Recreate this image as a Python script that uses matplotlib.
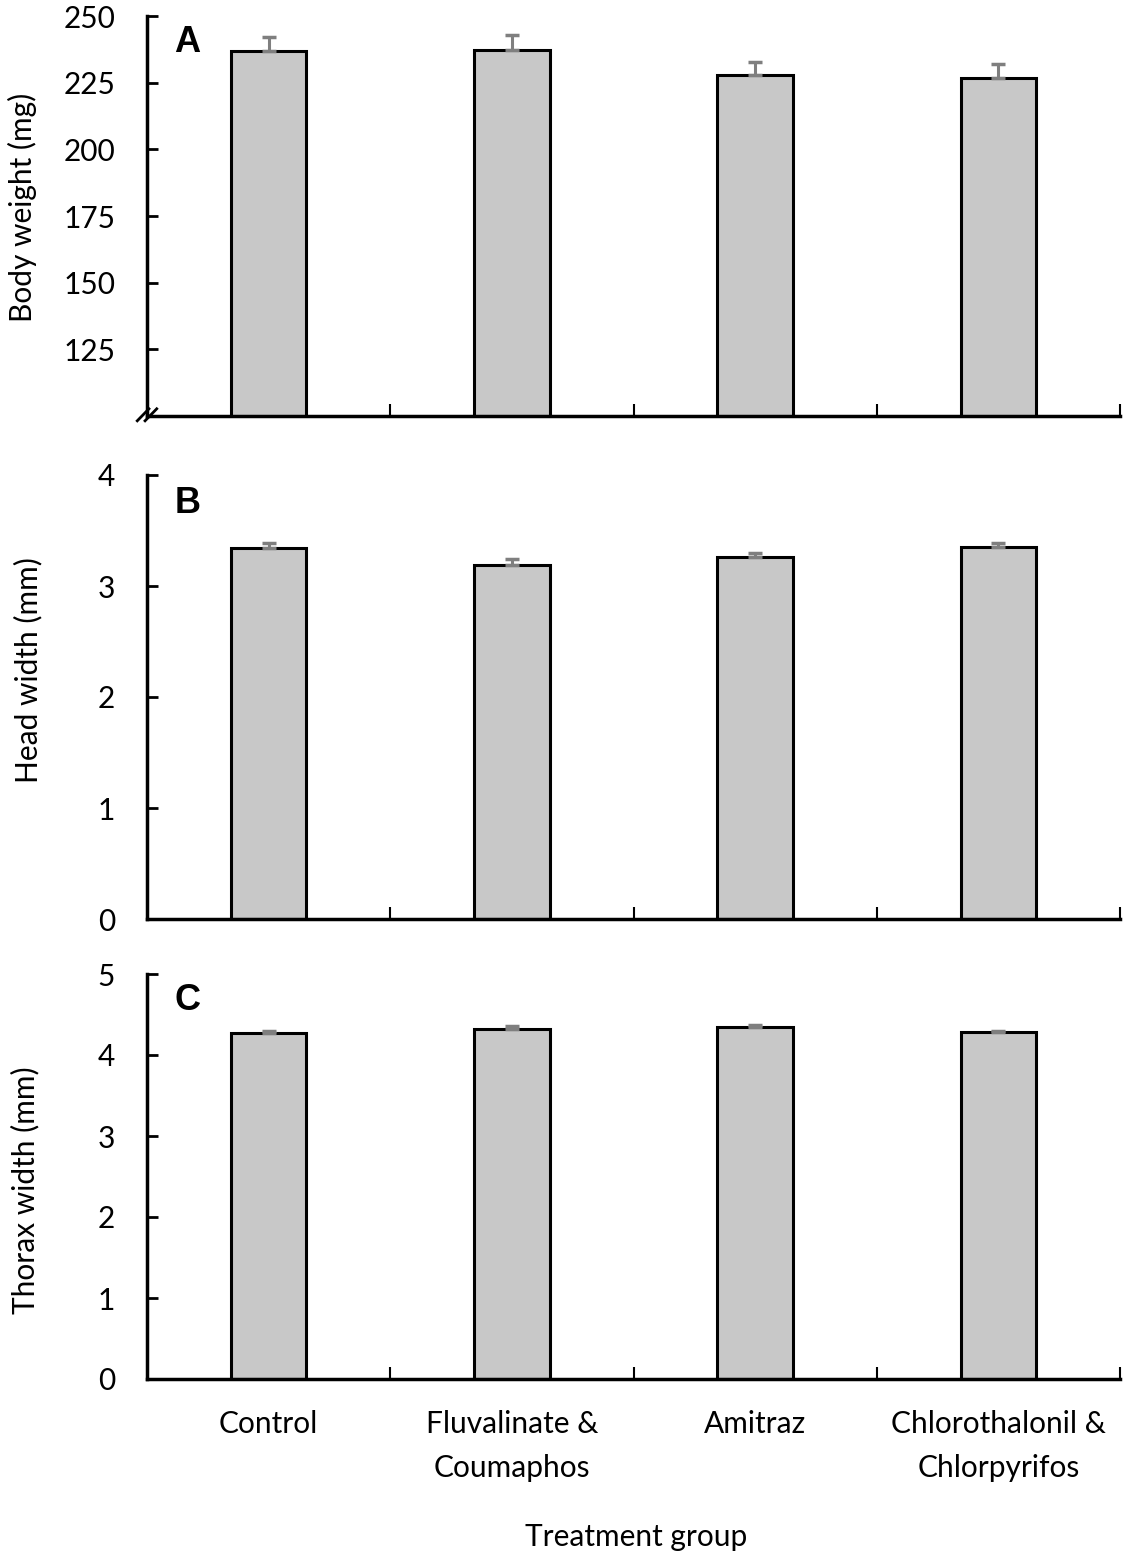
import matplotlib
matplotlib.use("Agg")
import matplotlib.pyplot as plt
import numpy as np

plt.rcParams['font.family'] = ['Lato', 'DejaVu Sans']

categories = ["Control", "Fluvalinate &\nCoumaphos", "Amitraz", "Chlorothalonil &\nChlorpyrifos"]

body_weight = [237.0, 237.4, 228.0, 226.9]
body_weight_err = [5.3, 5.4, 4.9, 5.1]

head_width = [3.345, 3.19, 3.264, 3.354]
head_width_err = [0.045, 0.054, 0.033, 0.036]

thorax_width = [4.268, 4.325, 4.35, 4.28]
thorax_width_err = [0.025, 0.03, 0.025, 0.02]

panel_letters = ["A", "B", "C"]
ylabels = ["Body weight (mg)", "Head width (mm)", "Thorax width (mm)"]
yticks_A = [125, 150, 175, 200, 225, 250]
yticks_B = [0, 1, 2, 3, 4]
yticks_C = [0, 1, 2, 3, 4, 5]

W, H = 1123, 1559
fig = plt.figure(figsize=(W / 100, H / 100), dpi=100)

def px_axes(left, top, right, bottom):
    return fig.add_axes([left / W, 1 - bottom / H, (right - left) / W, (bottom - top) / H])

panels = [
    dict(box=(147, 16, 1120, 416), vals=body_weight, err=body_weight_err, ylim=(100, 250), yticks=yticks_A,
         ylab_xy=(22, 207)),
    dict(box=(147, 475, 1120, 919), vals=head_width, err=head_width_err, ylim=(0, 4), yticks=yticks_B,
         ylab_xy=(28, 670)),
    dict(box=(147, 974, 1120, 1379), vals=thorax_width, err=thorax_width_err, ylim=(0, 5), yticks=yticks_C,
         ylab_xy=(25, 1190)),
]

x = np.arange(len(categories))
tick_fs = 21.5

axes = []
for i, p in enumerate(panels):
    ax = px_axes(*p["box"])
    axes.append(ax)
    ax.bar(x, p["vals"], width=0.31, color="#c8c8c8", edgecolor="black", linewidth=2.2, zorder=2)
    ax.errorbar(x, p["vals"], yerr=[np.zeros(len(x)), p["err"]], fmt="none", ecolor="#7f7f7f",
                elinewidth=2.2, capsize=5, capthick=2.5, zorder=3)
    ax.set_xlim(-0.5, 3.5)
    ax.set_ylim(*p["ylim"])
    ax.set_yticks(p["yticks"])
    ax.set_yticklabels([str(t) for t in p["yticks"]], fontsize=tick_fs)
    ax.tick_params(axis="y", direction="in", length=8, width=2, pad=23)
    ax.set_xticks([0.5, 1.5, 2.5, 3.5], minor=True)
    ax.tick_params(axis="x", which="minor", direction="in", length=9, width=1.5)
    if i == 2:
        ax.set_xticks(x)
        ax.set_xticklabels(categories, fontsize=tick_fs, linespacing=1.72)
        ax.tick_params(axis="x", which="major", length=0, pad=22)
    else:
        ax.set_xticks([])
    for s in ["top", "right"]:
        ax.spines[s].set_visible(False)
    for s in ["left", "bottom"]:
        ax.spines[s].set_linewidth(2.5)
    ax.text(0.028, 0.935, panel_letters[i], transform=ax.transAxes, fontsize=26, fontweight="bold",
            family=["Liberation Sans", "DejaVu Sans"], ha="left", va="center")
    fig.text(p["ylab_xy"][0] / W, 1 - p["ylab_xy"][1] / H, ylabels[i], rotation=90,
             fontsize=tick_fs, ha="center", va="center")

# axis break marker on panel A
axA = axes[0]
for dx in (-0.004, 0.004):
    axA.plot([dx - 0.006, dx + 0.006], [-0.012, 0.018], transform=axA.transAxes,
             color="black", lw=2, clip_on=False, zorder=5)

fig.text(636 / W, 1 - 1537 / H, "Treatment group", fontsize=tick_fs, ha="center", va="center")

fig.savefig("out.png", dpi=100)
